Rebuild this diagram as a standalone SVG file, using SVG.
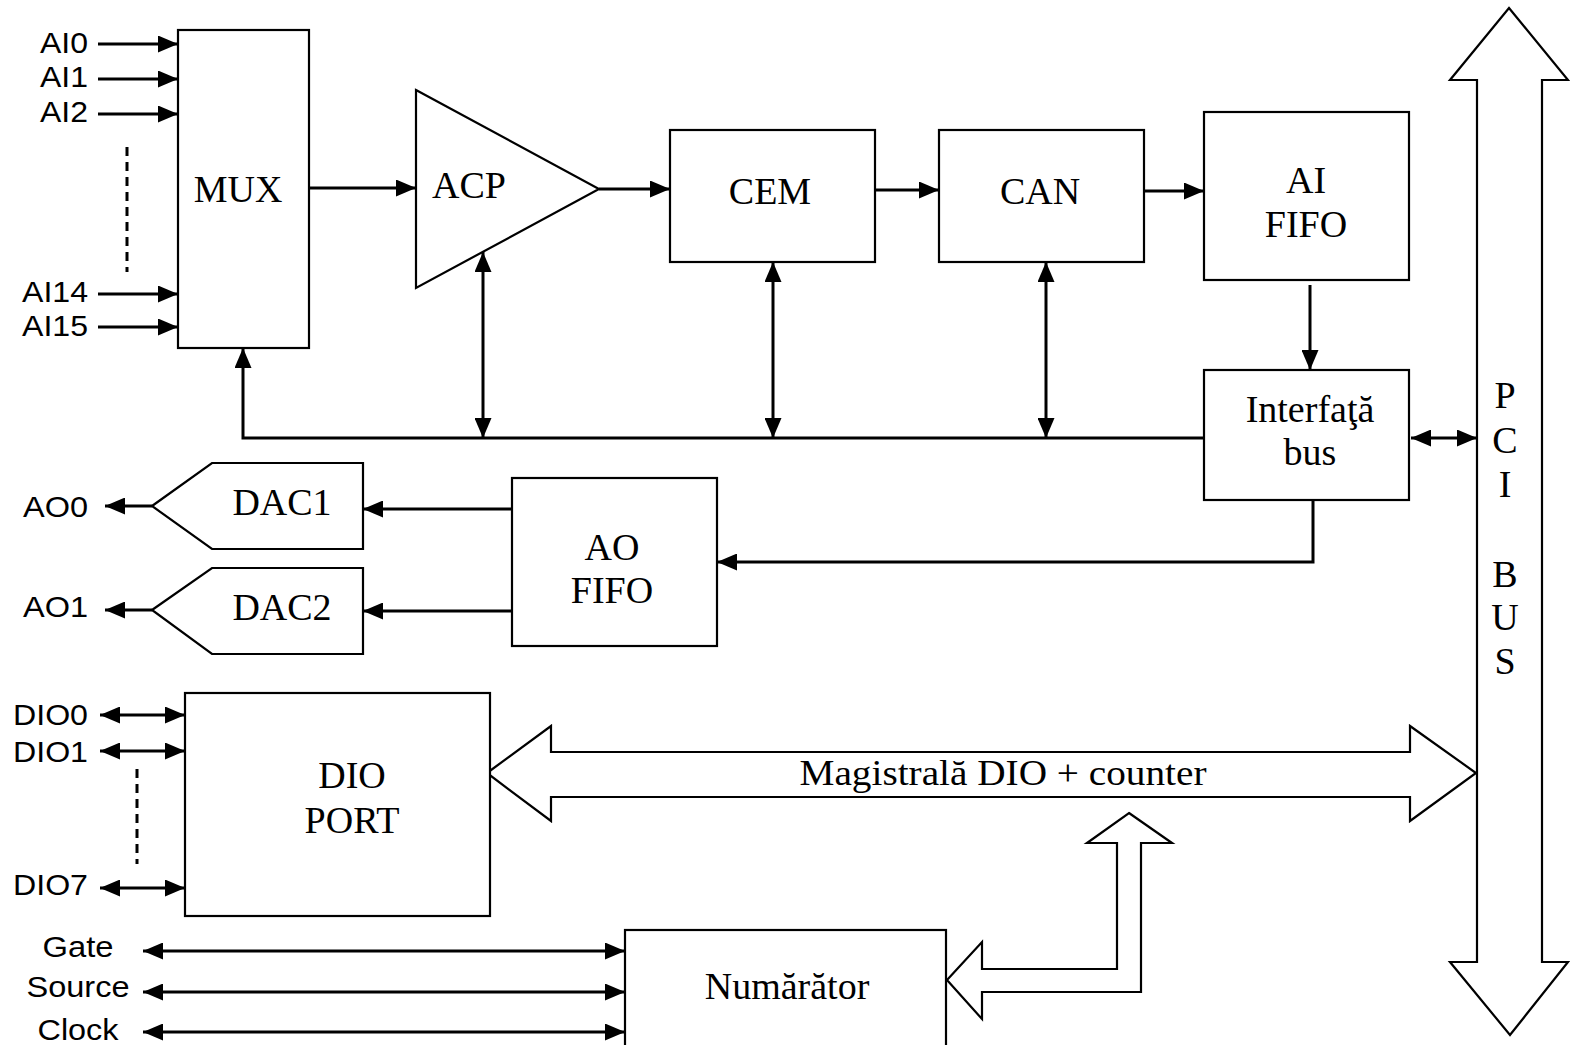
<svg xmlns="http://www.w3.org/2000/svg" width="1570" height="1045" viewBox="0 0 1570 1045">
  <style>
    .box { fill: #fff; stroke: #000; stroke-width: 2.2; }
    .hollow { fill: #fff; stroke: #000; stroke-width: 2.2; stroke-linejoin: miter; }
    .wire { fill: none; stroke: #000; stroke-width: 3; }
    .dash { fill: none; stroke: #000; stroke-width: 3; stroke-dasharray: 9 6; }
    .sans { font-family: "Liberation Sans", Arial, sans-serif; font-size: 30px; fill: #000; }
    .serif { font-family: "Liberation Serif", "Times New Roman", serif; font-size: 38px; fill: #000; }
    .mid { text-anchor: middle; }
    .end { text-anchor: end; }
  </style>
  <defs>
    <marker id="ah" markerUnits="userSpaceOnUse" markerWidth="20" markerHeight="17" refX="20" refY="8.5" orient="auto-start-reverse">
      <path d="M0,0 L20,8.5 L0,17 z" fill="#000"/>
    </marker>
  </defs>
  <rect width="1570" height="1045" fill="#fff"/>

  <!-- connectors -->
  <g id="connectors">
    <!-- analog inputs into the multiplexer -->
    <line class="wire" x1="98" y1="44" x2="178" y2="44" marker-end="url(#ah)"/>
    <line class="wire" x1="98" y1="79" x2="178" y2="79" marker-end="url(#ah)"/>
    <line class="wire" x1="98" y1="114" x2="178" y2="114" marker-end="url(#ah)"/>
    <line class="wire" x1="98" y1="294" x2="178" y2="294" marker-end="url(#ah)"/>
    <line class="wire" x1="98" y1="327" x2="178" y2="327" marker-end="url(#ah)"/>
    <line class="dash" x1="127" y1="147" x2="127" y2="272"/>
    <!-- analog chain -->
    <line class="wire" x1="309" y1="188" x2="416" y2="188" marker-end="url(#ah)"/>
    <line class="wire" x1="599" y1="189" x2="670" y2="189" marker-end="url(#ah)"/>
    <line class="wire" x1="875" y1="190" x2="939" y2="190" marker-end="url(#ah)"/>
    <line class="wire" x1="1144" y1="191" x2="1204" y2="191" marker-end="url(#ah)"/>
    <line class="wire" x1="1310" y1="285" x2="1310" y2="370" marker-end="url(#ah)"/>
    <!-- internal control line -->
    <path class="wire" d="M1204,438 H243 V348" marker-end="url(#ah)"/>
    <line class="wire" x1="483" y1="438" x2="483" y2="252" marker-start="url(#ah)" marker-end="url(#ah)"/>
    <line class="wire" x1="773" y1="438" x2="773" y2="262" marker-start="url(#ah)" marker-end="url(#ah)"/>
    <line class="wire" x1="1046" y1="438" x2="1046" y2="262" marker-start="url(#ah)" marker-end="url(#ah)"/>
    <!-- bus interface to PCI -->
    <line class="wire" x1="1411" y1="438" x2="1477" y2="438" marker-start="url(#ah)" marker-end="url(#ah)"/>
    <!-- analog output path -->
    <path class="wire" d="M1313,500 V562 H717" marker-end="url(#ah)"/>
    <line class="wire" x1="512" y1="509" x2="363" y2="509" marker-end="url(#ah)"/>
    <line class="wire" x1="512" y1="611" x2="363" y2="611" marker-end="url(#ah)"/>
    <line class="wire" x1="152" y1="506" x2="105" y2="506" marker-end="url(#ah)"/>
    <line class="wire" x1="152" y1="610" x2="105" y2="610" marker-end="url(#ah)"/>
    <!-- digital I/O lines -->
    <line class="wire" x1="100" y1="715" x2="185" y2="715" marker-start="url(#ah)" marker-end="url(#ah)"/>
    <line class="wire" x1="100" y1="751" x2="185" y2="751" marker-start="url(#ah)" marker-end="url(#ah)"/>
    <line class="wire" x1="100" y1="888" x2="185" y2="888" marker-start="url(#ah)" marker-end="url(#ah)"/>
    <line class="dash" x1="137" y1="769" x2="137" y2="864"/>
    <!-- counter lines -->
    <line class="wire" x1="143" y1="951" x2="625" y2="951" marker-start="url(#ah)" marker-end="url(#ah)"/>
    <line class="wire" x1="143" y1="992" x2="625" y2="992" marker-start="url(#ah)" marker-end="url(#ah)"/>
    <line class="wire" x1="143" y1="1032" x2="625" y2="1032" marker-start="url(#ah)" marker-end="url(#ah)"/>
    <!-- wide buses -->
    <polygon class="hollow" points="487,773 551,726 551,752 1410,752 1410,726 1476,773 1410,821 1410,797 551,797 551,821"/>
    <polygon class="hollow" points="1129,813 1172,843 1141,843 1141,992 982,992 982,1019 947,980 982,942 982,969 1117,969 1117,843 1087,843"/>
    <text class="serif mid" x="1003" y="785" style="font-size:36px" textLength="407" lengthAdjust="spacingAndGlyphs">Magistrală DIO + counter</text>
  </g>

  <!-- signal labels -->
  <g id="labels">
    <text class="sans end" x="88" y="53" textLength="48" lengthAdjust="spacingAndGlyphs">AI0</text>
    <text class="sans end" x="88" y="87" textLength="48" lengthAdjust="spacingAndGlyphs">AI1</text>
    <text class="sans end" x="88" y="122" textLength="48" lengthAdjust="spacingAndGlyphs">AI2</text>
    <text class="sans end" x="88" y="302" textLength="66" lengthAdjust="spacingAndGlyphs">AI14</text>
    <text class="sans end" x="88" y="336" textLength="66" lengthAdjust="spacingAndGlyphs">AI15</text>
    <text class="sans end" x="88" y="517" textLength="65" lengthAdjust="spacingAndGlyphs">AO0</text>
    <text class="sans end" x="88" y="617" textLength="65" lengthAdjust="spacingAndGlyphs">AO1</text>
    <text class="sans end" x="88" y="725" textLength="75" lengthAdjust="spacingAndGlyphs">DIO0</text>
    <text class="sans end" x="88" y="762" textLength="75" lengthAdjust="spacingAndGlyphs">DIO1</text>
    <text class="sans end" x="88" y="895" textLength="75" lengthAdjust="spacingAndGlyphs">DIO7</text>
    <text class="sans mid" x="78" y="957" textLength="71" lengthAdjust="spacingAndGlyphs">Gate</text>
    <text class="sans mid" x="78" y="997" textLength="103" lengthAdjust="spacingAndGlyphs">Source</text>
    <text class="sans mid" x="78" y="1040" textLength="81" lengthAdjust="spacingAndGlyphs">Clock</text>
  </g>

  <g id="mux">
    <rect class="box" x="178" y="30" width="131" height="318"/>
    <text class="serif mid" x="238" y="202">MUX</text>
  </g>
  <g id="acp">
    <polygon class="box" points="416,90 599,189 416,288"/>
    <text class="serif" x="432" y="198">ACP</text>
  </g>
  <g id="cem">
    <rect class="box" x="670" y="130" width="205" height="132"/>
    <text class="serif mid" x="770" y="204">CEM</text>
  </g>
  <g id="can">
    <rect class="box" x="939" y="130" width="205" height="132"/>
    <text class="serif mid" x="1040" y="204">CAN</text>
  </g>
  <g id="ai-fifo">
    <rect class="box" x="1204" y="112" width="205" height="168"/>
    <text class="serif mid" x="1306" y="193">AI</text>
    <text class="serif mid" x="1306" y="237">FIFO</text>
  </g>
  <g id="bus-interface">
    <rect class="box" x="1204" y="370" width="205" height="130"/>
    <text class="serif mid" x="1310" y="422">Interfaţă</text>
    <text class="serif mid" x="1310" y="465">bus</text>
  </g>
  <g id="pci-bus">
    <polygon class="hollow" points="1509,8 1568,80 1542,80 1542,962 1568,962 1510,1035 1450,962 1477,962 1477,80 1450,80"/>
    <text class="serif mid" x="1505" y="408">P</text>
    <text class="serif mid" x="1505" y="453">C</text>
    <text class="serif mid" x="1505" y="497">I</text>
    <text class="serif mid" x="1505" y="587">B</text>
    <text class="serif mid" x="1505" y="630">U</text>
    <text class="serif mid" x="1505" y="674">S</text>
  </g>
  <g id="dac1">
    <polygon class="box" points="152,506 212,463 363,463 363,549 212,549"/>
    <text class="serif mid" x="282" y="515">DAC1</text>
  </g>
  <g id="dac2">
    <polygon class="box" points="152,610 212,568 363,568 363,654 212,654"/>
    <text class="serif mid" x="282" y="620">DAC2</text>
  </g>
  <g id="ao-fifo">
    <rect class="box" x="512" y="478" width="205" height="168"/>
    <text class="serif mid" x="612" y="560">AO</text>
    <text class="serif mid" x="612" y="603">FIFO</text>
  </g>
  <g id="dio-port">
    <rect class="box" x="185" y="693" width="305" height="223"/>
    <text class="serif mid" x="352" y="788">DIO</text>
    <text class="serif mid" x="352" y="833">PORT</text>
  </g>
  <g id="counter">
    <rect class="box" x="625" y="930" width="321" height="130"/>
    <text class="serif mid" x="787" y="999">Numărător</text>
  </g>
</svg>
